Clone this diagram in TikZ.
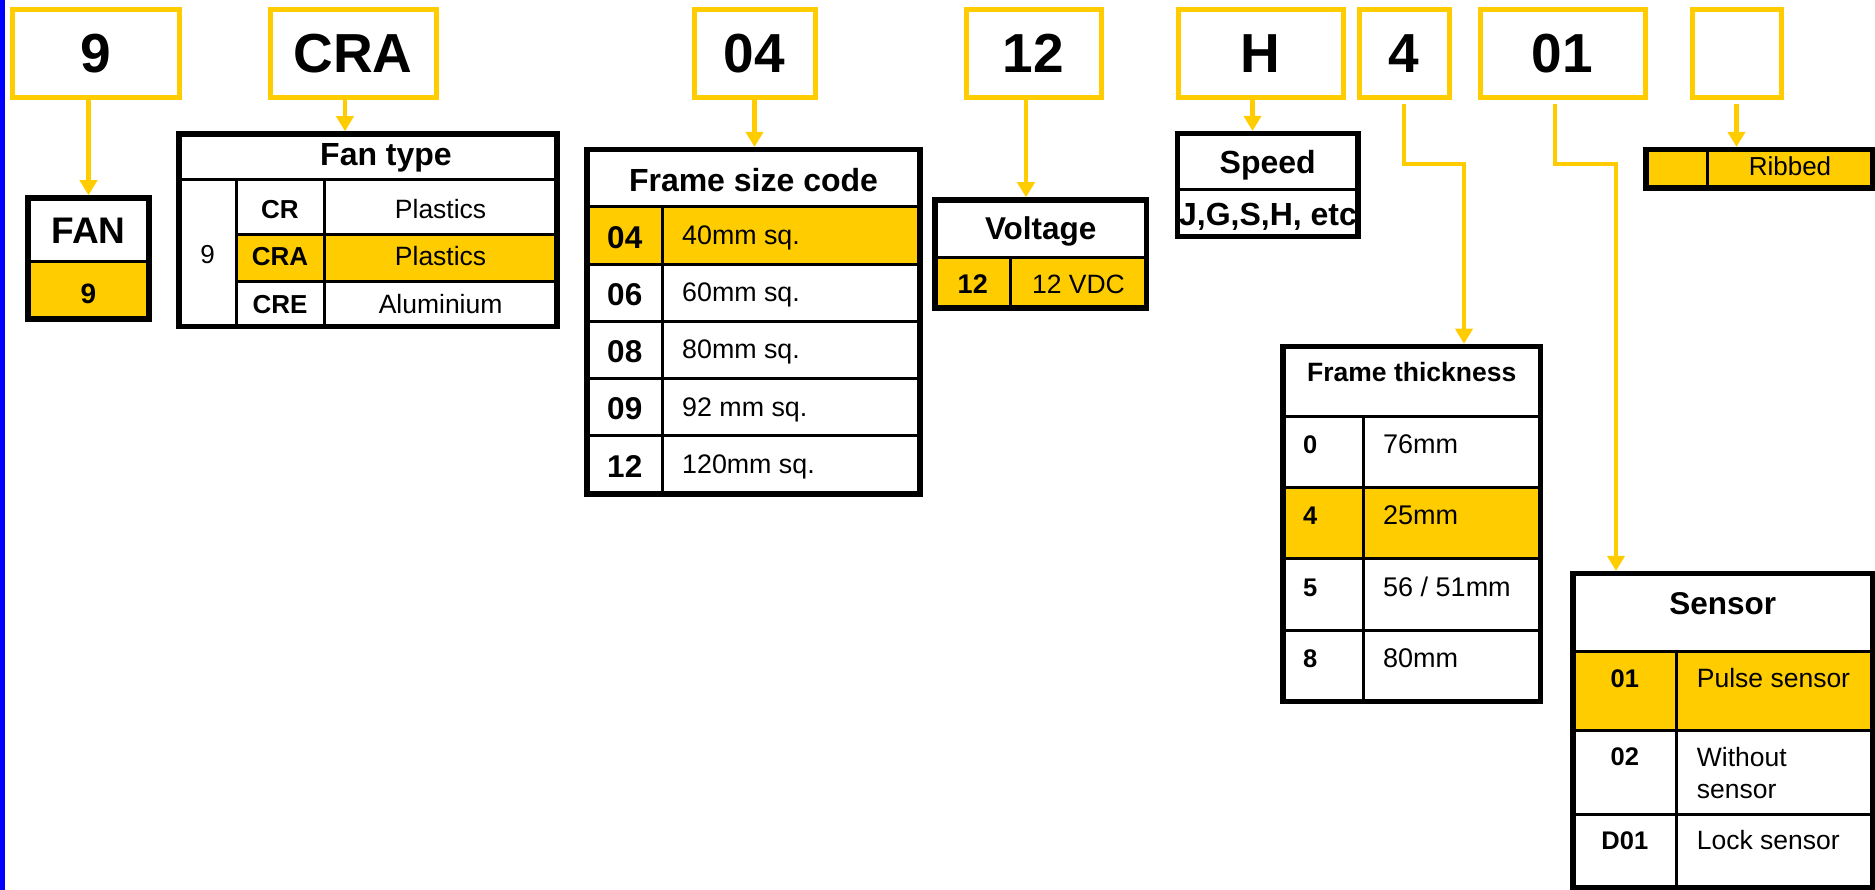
\documentclass[tikz,border=0pt]{standalone}
\usepackage{fontspec}
\setmainfont{Liberation Sans}
\usetikzlibrary{arrows.meta, positioning, calc}
\definecolor{codey}{HTML}{FFCC00}
\definecolor{edgeb}{HTML}{0000FF}
\newcommand{\pxsize}[1]{\fontsize{#1}{#1}\selectfont}
\tikzset{
  codebox/.style={draw=codey, line width=5pt, fill=white, inner sep=0pt,
                  minimum height=87.5pt, font=\bfseries\pxsize{55}},
  link/.style={draw=codey, line width=4.5pt, -{Triangle[length=15pt,width=17pt]}},
  rim/.style={draw=black, line width=5.5pt, inner sep=0pt},
  rule/.style={black, line width=3pt},
  headtxt/.style={inner sep=0pt, font=\bfseries\pxsize{#1}},
  headtxt/.default=32,
  codetxt/.style={inner sep=0pt, font=\bfseries\pxsize{#1}},
  codetxt/.default=26,
  valtxt/.style={inner sep=0pt, font=\pxsize{#1}},
  valtxt/.default=26.5,
}

\begin{document}
\begin{tikzpicture}[x=1pt, y=-1pt]
\useasboundingbox (0,0) rectangle (1875,890);
\fill[white] (0,0) rectangle (1875,890);
\fill[edgeb] (0,0) rectangle (5,890);
% the code boxes along the top
\foreach \nm/\cx/\w/\txt in {c9/95.5/167/9, cCRA/353/166/CRA, c04/754.5/121/04, c12/1033.5/135/12,
                             cH/1260.5/165/H, c4/1404/90/4, c01/1562.5/165/01, cX/1736.5/89/{}} {
  \node[codebox, minimum width=\w pt] (\nm) at (\cx,53.75) {\txt};
}
% FAN
\fill[codey] (28,261.5) rectangle (149,319);
\draw[rule] (28,261.5) -- (149,261.5);
\node[rim, minimum width=121pt, minimum height=121pt] (fan) at (88.5,258.5) {};
\node[headtxt=37, anchor=base] (fanhd) at (88.5,243.3) {FAN};
\node[codetxt=28, anchor=base] (fancode) at (88.5,303.3) {9};
% fan type
\fill[codey] (236,235) rectangle (557,281.5);
\draw[rule] (179,180) -- (557,180);
\draw[rule] (236,180) -- (236,326.5) (324.5,180) -- (324.5,326.5);
\draw[rule] (236,235) -- (557,235) (236,281.5) -- (557,281.5);
\node[rim, minimum width=378pt, minimum height=192.5pt] (fantype) at (368,230.25) {};
\node[headtxt, anchor=base] (fthd) at (386,165.5) {Fan type};
\node[valtxt=26, anchor=base] (ftnine) at (207.5,263.3) {9};
\foreach \k/\code/\mat in {0/CR/Plastics, 1/CRA/Plastics, 2/CRE/Aluminium} {
  \node[codetxt, anchor=base] (ftc\k) at (280,218.3+47.5*\k) {\code};
  \node[valtxt, anchor=base] (ftm\k) at (440.6,218.3+47.5*\k) {\mat};
}
% frame size code
\fill[codey] (587,206.7) rectangle (920,264.5);
\draw[rule] (587,206.7) -- (920,206.7);
\draw[rule] (662.5,206.7) -- (662.5,494);
\foreach \y in {264.5,321.7,379,436} \draw[rule] (587,\y) -- (920,\y);
\node[rim, minimum width=333pt, minimum height=344.3pt] (size) at (753.5,321.85) {};
\node[headtxt, anchor=base] (szhd) at (753.5,191.7) {Frame size code};
\foreach \k/\code/\sz in {0/04/40mm sq., 1/06/60mm sq., 2/08/80mm sq., 3/09/92 mm sq., 4/12/120mm sq.} {
  \node[codetxt=31.5, anchor=base] (szc\k) at (624.75,248.3+57.2*\k) {\code};
  \node[valtxt=26.8, anchor=base west] (szv\k) at (682,244.5+57.2*\k) {\sz};
}
% voltage
\fill[codey] (935,257.5) rectangle (1146.5,308);
\draw[rule] (935,257.5) -- (1146.5,257.5);
\draw[rule] (1010.5,257.5) -- (1010.5,308);
\node[rim, minimum width=211.5pt, minimum height=108pt] (volt) at (1040.75,254) {};
\node[headtxt=31.5, anchor=base] (vhd) at (1040.75,240) {Voltage};
\node[codetxt=27, anchor=base] (vc) at (972.75,293.3) {12};
\node[valtxt, anchor=base] (vv) at (1078.5,293.3) {12 VDC};
% speed
\draw[rule] (1177.5,190) -- (1358,190);
\node[rim, minimum width=180.5pt, minimum height=102.6pt] (speed) at (1267.75,185) {};
\node[headtxt, anchor=base] (sphd) at (1267.75,174) {Speed};
\node[headtxt, anchor=base] (spv) at (1268,226) {J,G,S,H, etc};
% ribbed
\fill[codey] (1646,149.7) rectangle (1872.5,188);
\draw[rule] (1707,149.7) -- (1707,188);
\node[rim, minimum width=226.5pt, minimum height=38.3pt] (ribbed) at (1759.25,168.85) {};
\node[valtxt=26, anchor=base] (rbv) at (1790,176) {Ribbed};
% frame thickness
\fill[codey] (1283,487.9) rectangle (1540.5,558.6);
\draw[rule] (1283,416.7) -- (1540.5,416.7);
\draw[rule] (1363.5,416.7) -- (1363.5,701.6);
\foreach \y in {487.9,558.6,630} \draw[rule] (1283,\y) -- (1540.5,\y);
\node[rim, minimum width=257.5pt, minimum height=355.1pt] (thick) at (1411.75,524.05) {};
\node[headtxt=26.5, anchor=base] (thhd) at (1411.75,382) {Frame thickness};
\foreach \k/\code/\thk in {0/0/76mm, 1/4/25mm, 2/5/{56 / 51mm}, 3/8/80mm} {
  \node[codetxt=25.5, anchor=base west] (thc\k) at (1303,453.5+71.3*\k) {\code};
  \node[valtxt=27, anchor=base west] (thv\k) at (1383,453.5+71.3*\k) {\thk};
}
% sensor
\fill[codey] (1573,651.4) rectangle (1872.5,730);
\draw[rule] (1573,651.4) -- (1872.5,651.4);
\draw[rule] (1676.6,651.4) -- (1676.6,888);
\draw[rule] (1573,730) -- (1872.5,730) (1573,814) -- (1872.5,814);
\node[rim, minimum width=299.5pt, minimum height=314.3pt] (sensor) at (1722.75,730.85) {};
\node[headtxt=31.5, anchor=base] (snhd) at (1722.75,614) {Sensor};
\node[codetxt=25.5, anchor=base] (snc0) at (1624.8,687) {01};
\node[valtxt, anchor=base west] (snv0) at (1696.7,687) {Pulse sensor};
\node[codetxt=25.5, anchor=base] (snc1) at (1624.8,765.7) {02};
\node[valtxt, align=left, anchor=north west, font=\fontsize{26.5}{32}\selectfont] (snv1) at (1696.7,747.5) {Without\\sensor};
\node[codetxt=25.5, anchor=base] (snc2) at (1624.8,849) {D01};
\node[valtxt, anchor=base west] (snv2) at (1696.7,849) {Lock sensor};
% arrows from the code boxes
\draw[link] (c9.south -| fan.north) -- (fan.north);
\coordinate (aCRA) at ($(cCRA.south)+(-8,0)$);
\draw[link] (aCRA) -- (aCRA |- fantype.north);
\draw[link] (c04.south) -- (c04.south |- size.north);
\coordinate (a12) at ($(c12.south)+(-7.5,0)$);
\draw[link] (a12) -- (a12 |- volt.north);
\coordinate (aH) at ($(cH.south)+(-8,0)$);
\draw[link] (aH) -- (aH |- speed.north);
\coordinate (bend4) at (1464,164);
\draw[link, shorten <=4pt] (c4.south) |- (bend4) -- (bend4 |- thick.north);
\coordinate (a01) at ($(c01.south)+(-7.5,0)$);
\coordinate (bend01) at (1616,164);
\draw[link, shorten <=4pt] (a01) |- (bend01) -- (bend01 |- sensor.north);
\draw[link, shorten <=4pt] (cX.south) -- (cX.south |- ribbed.north);
\end{tikzpicture}
\end{document}
